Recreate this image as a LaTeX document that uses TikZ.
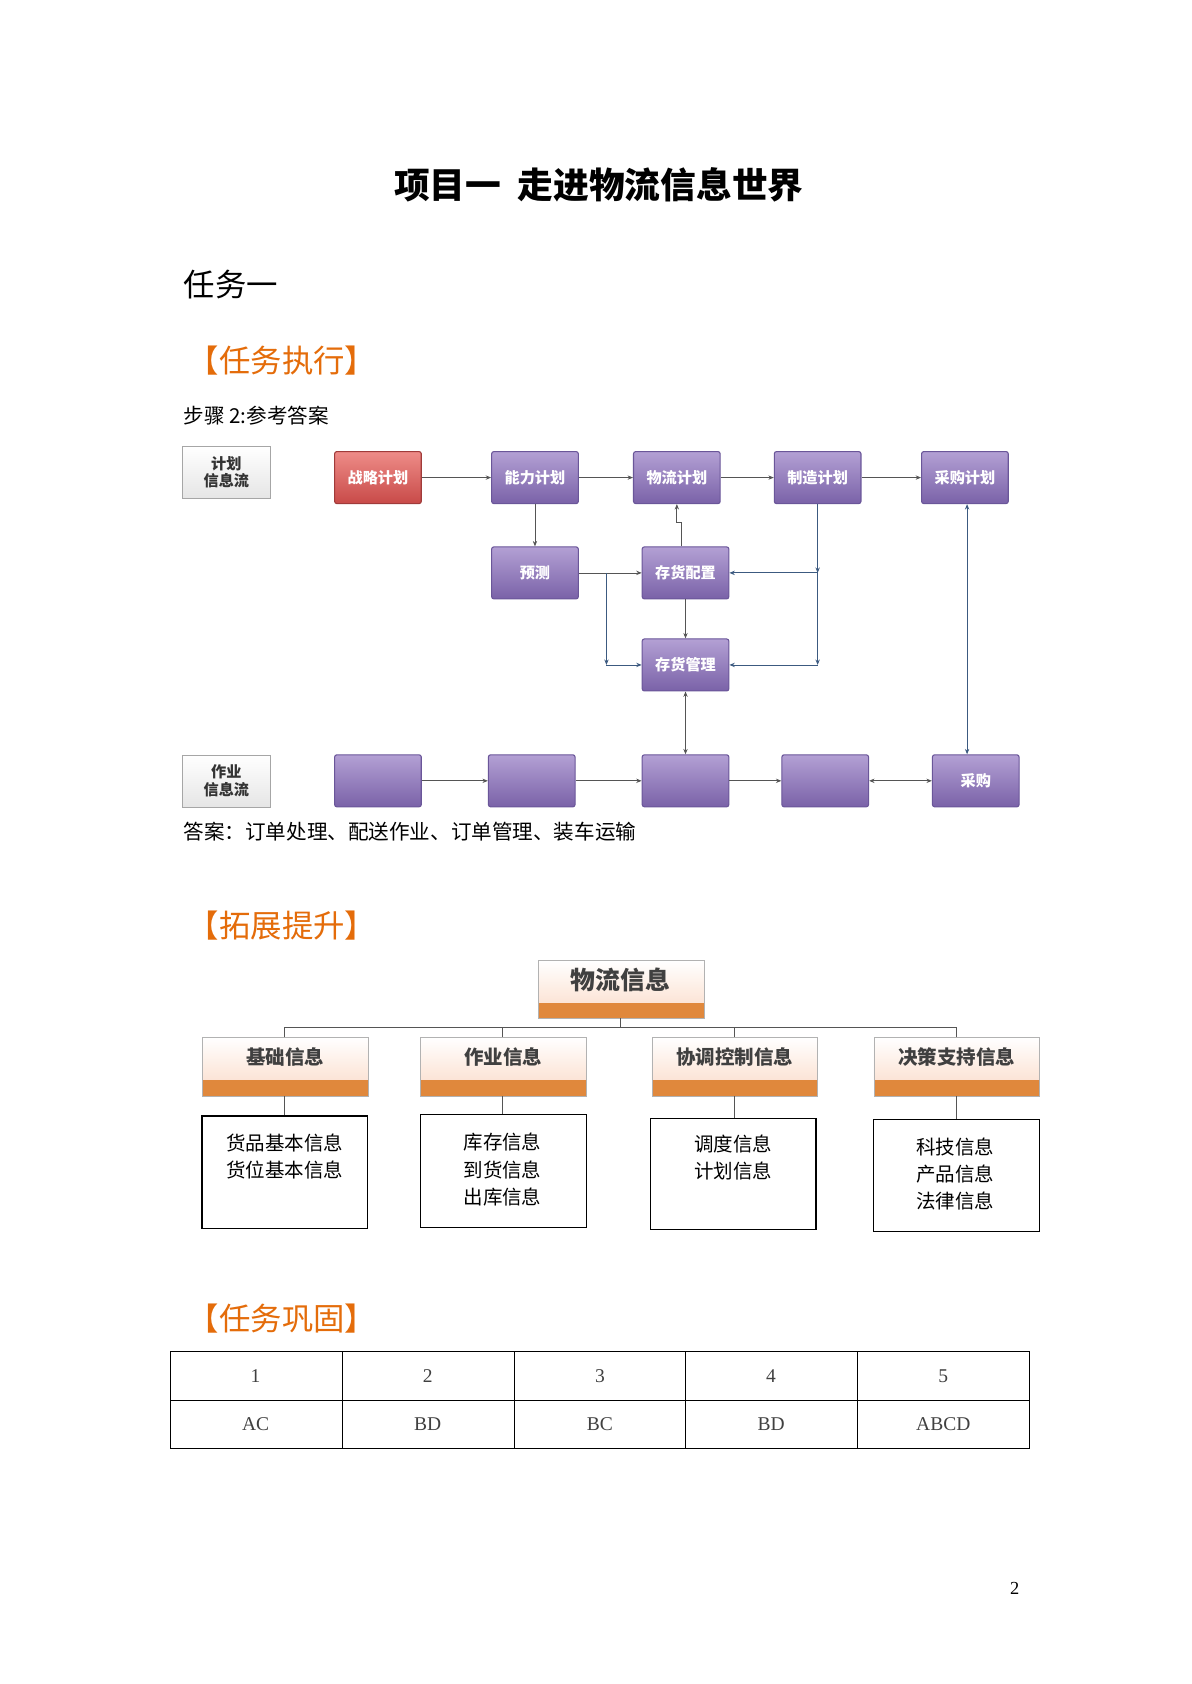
\documentclass[tikz,border=0pt]{standalone}
\usepackage{fontspec}
\setmainfont{Noto Sans CJK SC}
\newfontfamily\serifnum{Liberation Serif}
\usetikzlibrary{arrows.meta}
\definecolor{orng}{HTML}{E46C0A}
\definecolor{bar}{HTML}{E0883C}
\definecolor{peach}{HTML}{FCE4D6}
\definecolor{purT}{HTML}{B3A0D4}
\definecolor{purB}{HTML}{7A62A8}
\definecolor{purE}{HTML}{6A5699}
\definecolor{redT}{HTML}{EE8C88}
\definecolor{redB}{HTML}{C84A48}
\definecolor{ln}{HTML}{555555}
\definecolor{bl}{HTML}{3C5A80}
\begin{document}
\begin{tikzpicture}[x=1pt,y=-1pt,
 fs/.style={font=\fontsize{#1}{#1}\selectfont},
 fsb/.style={font=\fontsize{#1}{#1}\selectfont\bfseries},
 fsn/.style={font=\fontsize{#1}{#1}\serifnum},
 pbox/.style={draw=purE,line width=1pt,rounded corners=2pt,minimum width=80pt,minimum height=48pt,top color=purT,bottom color=purB,text=white,font=\fontsize{14}{14}\selectfont\bfseries,inner sep=0},
 rbox/.style={pbox,draw=redB!80!black,top color=redT,bottom color=redB},
 gbox/.style={draw=gray!70,top color=white,bottom color=gray!20,minimum width=81pt,minimum height=48pt,font=\fontsize{14}{16}\selectfont\bfseries,align=center,inner sep=0,text=black!80},
 ar/.style={draw=ln,line width=0.7pt,-{Stealth[length=5pt,width=4pt]}},
 br/.style={draw=bl,line width=0.8pt,-{Stealth[length=5pt,width=4pt]}},
 txt/.style={draw=black,line width=1pt,minimum width=153pt,anchor=north west,inner sep=0},
]
\useasboundingbox (0,0) rectangle (1100,1555);
\node[fsb=33] (title) at (553,171) {项目一\ \ 走进物流信息世界};
\node[fs=29,anchor=west] (t1) at (166,263) {任务一};
\node[fs=29,text=orng,anchor=west] (h1) at (170,333) {【任务执行】};
\node[fs=19,anchor=west] (s2) at (166,384) {步骤 2:参考答案};

\node[gbox] (g1) at (209,436) {计划\\信息流};
\node[gbox] (g2) at (209,721) {作业\\信息流};

\node[rbox] (zl) at (349,441) {战略计划};
\node[pbox] (nl) at (494,441) {能力计划};
\node[pbox] (wl) at (625,441) {物流计划};
\node[pbox] (zz) at (755,441) {制造计划};
\node[pbox] (cg) at (891,441) {采购计划};
\node[pbox] (yc) at (494,529) {预测};
\node[pbox] (pz) at (633,529) {存货配置};
\node[pbox] (gl) at (633,614) {存货管理};
\node[pbox] (b1) at (349,721) {};
\node[pbox] (b2) at (491,721) {};
\node[pbox] (b3) at (633,721) {};
\node[pbox] (b4) at (762,721) {};
\node[pbox] (b5) at (901,721) {采购};

\draw[ar] (zl) -- (nl);
\draw[ar] (nl) -- (wl);
\draw[ar] (wl) -- (zz);
\draw[ar] (zz) -- (cg);
\draw[ar] (nl) -- (yc);
\coordinate (j1) at (629,482);
\draw[ar] (pz.north -| j1) -- (j1) -- (625,482) -- (wl.south);
\draw[ar] (yc) -- (pz);
\coordinate (sp) at (560,529);
\draw[br] (sp) -- (560,614);
\draw[br] (560,614) -- (gl.west);
\draw[ar] (pz) -- (gl);
\coordinate (mz) at (755,529);
\coordinate (mg) at (755,614);
\draw[br] (zz.south) -- (mz);
\draw[br] (mz) -- (mg);
\draw[br] (mz) -- (pz.east);
\draw[br] (mg) -- (gl.east);
\draw[br,{Stealth[length=5pt,width=4pt]}-{Stealth[length=5pt,width=4pt]}] (cg.south -| 893,0) -- (b5.north -| 893,0);
\draw[ar,{Stealth[length=5pt,width=4pt]}-{Stealth[length=5pt,width=4pt]}] (gl) -- (b3);
\draw[ar] (b1) -- (b2);
\draw[ar] (b2) -- (b3);
\draw[ar] (b3) -- (b4);
\draw[ar,{Stealth[length=5pt,width=4pt]}-{Stealth[length=5pt,width=4pt]}] (b4) -- (b5);
\node[fs=19,anchor=west] (ans) at (166,768) {答案：订单处理、配送作业、订单管理、装车运输};

\node[fs=29,text=orng,anchor=west] (h2) at (170,855) {【拓展提升】};
\fill[top color=white,bottom color=peach] (497,887) rectangle (650,926);
\fill[bar] (497,926) rectangle (650,940);
\draw[gray!60] (497,887) rectangle (650,940);
\node[fsb=23,text=black!75] (root) at (573,905) {物流信息};
\foreach \n/\xa/\t in {c1/187/基础信息, c2/388/作业信息, c3/602/协调控制信息, c4/807/决策支持信息}{
  \fill[top color=white,bottom color=peach] (\xa,958) rectangle ++(153,39);
  \fill[bar] (\xa,997) rectangle ++(153,15);
  \draw[gray!60] (\xa,958) rectangle ++(153,54);
  \node[fsb=18,text=black!75] (\n) at ({\xa+76.5},976) {\t};
}
\draw[ln,line width=0.7pt] (573,940) -- (573,949);
\draw[ln,line width=0.7pt] (263,958) -- (263,949) -- (883,949) -- (883,958);
\draw[ln,line width=0.7pt] (464,949) -- (464,958);
\draw[ln,line width=0.7pt] (678,949) -- (678,958);
\node[txt,minimum height=104pt] (d1) at (186,1030) {};
\node[txt,minimum height=104pt] (d2) at (388,1029) {};
\node[txt,minimum height=103pt] (d3) at (600,1032) {};
\node[txt,minimum height=104pt] (d4) at (806,1033) {};
\draw[ln,line width=0.7pt] (263,1012) -- (d1.north -| 263,0);
\draw[ln,line width=0.7pt] (464,1012) -- (d2.north -| 464,0);
\draw[ln,line width=0.7pt] (678,1012) -- (d3.north -| 678,0);
\draw[ln,line width=0.7pt] (883,1012) -- (d4.north -| 883,0);
\node[fs=18,align=center] (e1) at (263,1068) {货品基本信息\\[7pt]货位基本信息};
\node[fs=18,align=center] (e2) at (464,1080) {库存信息\\[7pt]到货信息\\[7pt]出库信息};
\node[fs=18,align=center] (e3) at (677,1069) {调度信息\\[7pt]计划信息};
\node[fs=18,align=center] (e4) at (882,1084) {科技信息\\[7pt]产品信息\\[7pt]法律信息};

\node[fs=29,text=orng,anchor=west] (h3) at (170,1218) {【任务巩固】};
\draw[line width=0.8pt] (157,1248) rectangle (951,1337);
\draw[line width=0.8pt] (157,1293) -- (951,1293);
\foreach \x in {316,475,633,792} \draw[line width=0.8pt] (\x,1248) -- (\x,1337);
\foreach \x/\a/\b in {236/1/AC,395/2/BD,554/3/BC,712/4/BD,871/5/ABCD}{
  \node[fsn=18,text=black!75] at (\x,1271) {\a};
  \node[fsn=18,text=black!75] at (\x,1315) {\b};
}
\node[fsn=17] (pg) at (937,1467) {2};
\end{tikzpicture}
\end{document}
